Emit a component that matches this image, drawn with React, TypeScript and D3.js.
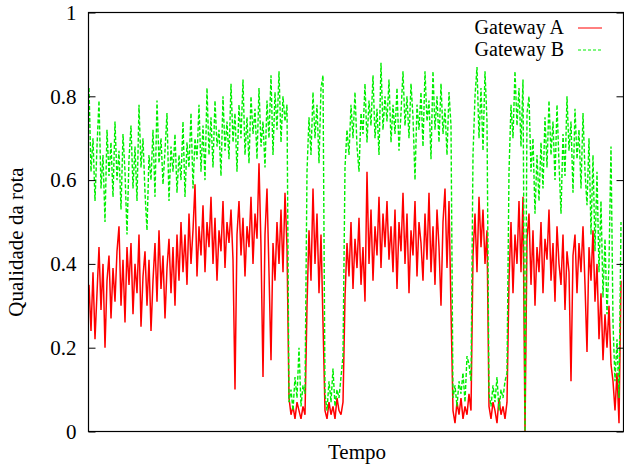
import { useEffect, useRef } from "react"
import * as d3 from "d3"

// Qualidade da rota over time, one sample every couple of pixels
const gatewayA = [
    0.35, 0.24, 0.38, 0.22, 0.33, 0.44, 0.29, 0.40, 0.20, 0.36,
    0.42, 0.27, 0.39, 0.31, 0.43, 0.49, 0.30, 0.41, 0.26, 0.44,
    0.35, 0.45, 0.28, 0.40, 0.33, 0.47, 0.25, 0.37, 0.43, 0.30,
    0.41, 0.24, 0.36, 0.45, 0.31, 0.48, 0.34, 0.42, 0.27, 0.39,
    0.46, 0.33, 0.44, 0.30, 0.47, 0.36, 0.50, 0.38, 0.47, 0.35,
    0.52, 0.40, 0.48, 0.59, 0.37, 0.49, 0.42, 0.54, 0.38, 0.50,
    0.44, 0.56, 0.40, 0.51, 0.36, 0.48, 0.43, 0.55, 0.39, 0.50,
    0.45, 0.53, 0.41, 0.10, 0.47, 0.55, 0.42, 0.51, 0.37, 0.49,
    0.44, 0.56, 0.40, 0.52, 0.46, 0.64, 0.44, 0.13, 0.47, 0.58,
    0.38, 0.17, 0.45, 0.36, 0.50, 0.40, 0.53, 0.38, 0.57, 0.44,
    0.08, 0.04, 0.06, 0.03, 0.07, 0.05, 0.03, 0.06, 0.04, 0.30,
    0.48, 0.36, 0.58, 0.40, 0.52, 0.33, 0.47, 0.26, 0.05, 0.03,
    0.07, 0.04, 0.06, 0.03, 0.08, 0.05, 0.04, 0.07, 0.32, 0.45,
    0.37, 0.50, 0.34, 0.46, 0.39, 0.51, 0.35, 0.44, 0.31, 0.62,
    0.40, 0.53, 0.36, 0.49, 0.42, 0.56, 0.39, 0.52, 0.44, 0.55,
    0.41, 0.49, 0.38, 0.53, 0.34, 0.50, 0.43, 0.57, 0.40, 0.52,
    0.33, 0.48, 0.42, 0.55, 0.37, 0.50, 0.45, 0.36, 0.52, 0.41,
    0.57, 0.38, 0.49, 0.35, 0.53, 0.44, 0.30, 0.50, 0.58, 0.39,
    0.55, 0.29, 0.05, 0.02, 0.07, 0.04, 0.08, 0.03, 0.06, 0.04,
    0.09, 0.05, 0.42, 0.52, 0.38, 0.56, 0.44, 0.53, 0.40, 0.48,
    0.06, 0.03, 0.07, 0.05, 0.02, 0.08, 0.04, 0.06, 0.03, 0.07,
    0.36, 0.50, 0.33, 0.47, 0.40, 0.55, 0.38, 0.56, 0.00, 0.46,
    0.52, 0.35, 0.48, 0.30, 0.44, 0.38, 0.50, 0.33, 0.46, 0.41,
    0.53, 0.36, 0.45, 0.31, 0.49, 0.40, 0.35, 0.47, 0.29, 0.43,
    0.38, 0.12, 0.42, 0.47, 0.33, 0.45, 0.38, 0.49, 0.35, 0.19,
    0.44, 0.36, 0.48, 0.31, 0.40, 0.22, 0.33, 0.17, 0.28, 0.20,
    0.30, 0.16, 0.12, 0.05, 0.14, 0.02, 0.36,
]

const gatewayB = [
    0.82, 0.62, 0.70, 0.55, 0.68, 0.79, 0.58, 0.66, 0.50, 0.72,
    0.61, 0.69, 0.56, 0.74, 0.60, 0.67, 0.53, 0.71, 0.62, 0.47,
    0.65, 0.73, 0.58, 0.68, 0.55, 0.78, 0.63, 0.70, 0.57, 0.48,
    0.66, 0.60, 0.72, 0.56, 0.79, 0.64, 0.70, 0.59, 0.67, 0.76,
    0.55, 0.68, 0.62, 0.71, 0.57, 0.66, 0.60, 0.74, 0.56, 0.69,
    0.63, 0.76, 0.58, 0.70, 0.65, 0.78, 0.62, 0.73, 0.60, 0.82,
    0.66, 0.75, 0.63, 0.79, 0.68, 0.72, 0.61, 0.80, 0.67, 0.74,
    0.65, 0.83, 0.69, 0.76, 0.62, 0.78, 0.70, 0.84, 0.66, 0.75,
    0.64, 0.80, 0.71, 0.77, 0.65, 0.82, 0.68, 0.74, 0.63, 0.79,
    0.70, 0.85, 0.66, 0.81, 0.72, 0.86, 0.69, 0.80, 0.74, 0.78,
    0.07, 0.10, 0.05, 0.13, 0.08, 0.20, 0.06, 0.11, 0.09, 0.62,
    0.75, 0.66, 0.81, 0.70, 0.78, 0.64, 0.82, 0.85, 0.09, 0.05,
    0.12, 0.07, 0.15, 0.06, 0.10, 0.08, 0.13, 0.18, 0.63, 0.72,
    0.66, 0.78, 0.70, 0.81, 0.68, 0.62, 0.76, 0.71, 0.83, 0.69,
    0.79, 0.73, 0.85, 0.70, 0.77, 0.66, 0.88, 0.72, 0.80, 0.74,
    0.84, 0.69, 0.78, 0.71, 0.82, 0.67, 0.76, 0.86, 0.73, 0.80,
    0.70, 0.83, 0.75, 0.60, 0.78, 0.72, 0.81, 0.68, 0.86, 0.74,
    0.79, 0.65, 0.86, 0.72, 0.80, 0.69, 0.83, 0.71, 0.77, 0.66,
    0.81, 0.73, 0.08, 0.11, 0.06, 0.12, 0.09, 0.14, 0.07, 0.18,
    0.16, 0.12, 0.66, 0.80, 0.87, 0.70, 0.82, 0.67, 0.86, 0.74,
    0.09, 0.06, 0.11, 0.07, 0.13, 0.05, 0.10, 0.08, 0.12, 0.14,
    0.62, 0.78, 0.70, 0.86, 0.73, 0.82, 0.68, 0.84, 0.00, 0.76,
    0.80, 0.62, 0.70, 0.52, 0.66, 0.55, 0.69, 0.58, 0.75, 0.63,
    0.79, 0.66, 0.74, 0.60, 0.78, 0.64, 0.52, 0.71, 0.61, 0.80,
    0.67, 0.74, 0.57, 0.77, 0.65, 0.72, 0.58, 0.76, 0.62, 0.54,
    0.70, 0.47, 0.66, 0.43, 0.62, 0.38, 0.55, 0.32, 0.46, 0.28,
    0.40, 0.68, 0.26, 0.12, 0.22, 0.08, 0.50,
]

const yTicks = [0, 0.2, 0.4, 0.6, 0.8, 1]
const yTickLabels = ["0", "0.2", "0.4", "0.6", "0.8", "1"]
const seriesNames = ["Gateway A", "Gateway B"]

const font = "'Liberation Serif', 'Times New Roman', serif"

export default function App() {
    const chart = useRef<SVGSVGElement>(null)
    const width = 624
    const height = 468

    useEffect(() => {
        const svg = d3.select(chart.current)
        svg.selectAll("*").remove()

        const left = 88.5, right = 623.5, top = 12.5, bottom = 431.5

        const x = d3.scaleLinear()
            .domain([0, gatewayA.length - 1])
            .range([89, 621])

        const y = d3.scaleLinear()
            .domain([0, 1])
            .range([bottom, top])

        const line = d3.line<number>()
            .x((d, i) => x(i))
            .y(d => y(d))

        svg.append("path")
            .datum(gatewayA)
            .attr("d", line)
            .attr("fill", "none")
            .attr("stroke", "#ff0000")
            .attr("stroke-width", 1.5)
            .attr("stroke-linejoin", "bevel")

        svg.append("path")
            .datum(gatewayB)
            .attr("d", line)
            .attr("fill", "none")
            .attr("stroke", "#00ee00")
            .attr("stroke-width", 1.4)
            .attr("stroke-linejoin", "bevel")
            .attr("stroke-dasharray", "4,2")

        // frame
        svg.append("rect")
            .attr("x", left).attr("y", top)
            .attr("width", right - left).attr("height", bottom - top)
            .attr("fill", "none")
            .attr("stroke", "#000")
            .attr("stroke-width", 1.2)

        const yAxis = d3.axisLeft(y)
            .tickValues(yTicks)
            .tickFormat((d, i) => yTickLabels[i])
            .tickSizeInner(-7)
            .tickSizeOuter(0)
            .tickPadding(12)

        const gy = svg.append("g")
            .attr("transform", `translate(${left},0)`)
            .call(yAxis)
        gy.select(".domain").remove()
        gy.selectAll("line").attr("stroke", "#000")
        gy.selectAll("text")
            .attr("font-family", font)
            .attr("font-size", 21)
            .attr("fill", "#000")

        const yRight = d3.axisRight(y)
            .tickValues(yTicks)
            .tickFormat(() => "")
            .tickSizeInner(-7)
            .tickSizeOuter(0)
        const gr = svg.append("g")
            .attr("transform", `translate(${right},0)`)
            .call(yRight)
        gr.select(".domain").remove()
        gr.selectAll("line").attr("stroke", "#000")

        // axis titles
        svg.append("text")
            .attr("x", 357).attr("y", 459)
            .attr("text-anchor", "middle")
            .attr("font-family", font)
            .attr("font-size", 21)
            .text("Tempo")

        svg.append("text")
            .attr("transform", "translate(23,242) rotate(-90)")
            .attr("text-anchor", "middle")
            .attr("font-family", font)
            .attr("font-size", 21)
            .text("Qualidade da rota")

        // legend
        const legend = svg.append("g")
        seriesNames.forEach((name, i) => {
            const ly = 34 + i * 22
            legend.append("text")
                .attr("x", 564).attr("y", ly)
                .attr("text-anchor", "end")
                .attr("font-family", font)
                .attr("font-size", 20)
                .text(name)
            legend.append("line")
                .attr("x1", 578).attr("x2", 602)
                .attr("y1", ly - 6).attr("y2", ly - 6)
                .attr("stroke", i === 0 ? "#ff0000" : "#00ee00")
                .attr("stroke-width", 1)
                .attr("stroke-dasharray", i === 0 ? null : "3,2")
        })
    }, [])

    return (
        <svg
            ref={chart}
            width={width}
            height={height}
            style={{ position: "absolute", left: 0, top: 0, background: "#fff" }}
        ></svg>
    )
}
